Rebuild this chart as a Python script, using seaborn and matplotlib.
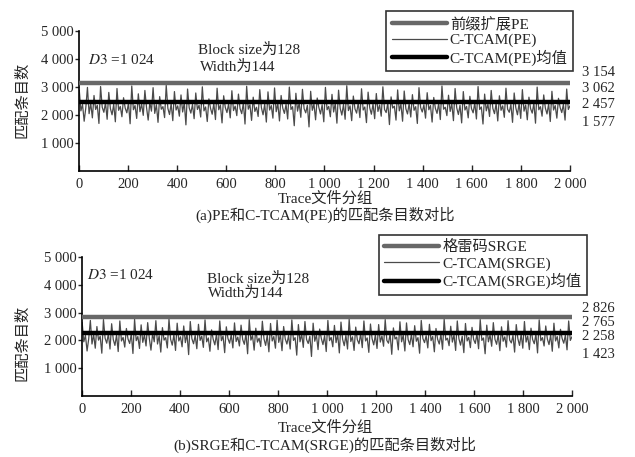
import numpy as np
import seaborn as sns
import matplotlib
matplotlib.use("Agg")
import matplotlib.pyplot as plt

# ---- data ----
trace_groups = 2000

# (a) PE vs C-TCAM(PE)
pe_count_a = 3154
ctcam_mean_a = 2457
ctcam_a = [
    2900, 2150, 2380, 1780, 2260, 2990, 2050, 2420, 1900, 2700, 2200, 2350, 1700, 3020, 2280,
    2100, 2440, 1850, 2810, 2230, 2010, 2390, 1760, 2950, 2170, 2310, 1940, 2620, 2250, 2080,
    2430, 1690, 3040, 2190, 2340, 1880, 2760, 2120, 2400, 1990, 2880, 2270, 1820, 2450, 2140,
    2980, 2060, 2370, 1740, 2660, 2210, 2300, 1910, 3062, 2240, 2020, 2410, 1800, 2840, 2180,
    2330, 1960, 2720, 2110, 2440, 1650, 2930, 2260, 2070, 2380, 1870, 2790, 2200, 2350, 1930,
    3010, 2150, 2290, 1770, 2580, 2240, 2030, 2420, 1840, 2960, 2190, 2360, 1720, 2690, 2270,
    2090, 2400, 1900, 2870, 2160, 2320, 1980, 2750, 2230, 2050, 2440, 1680, 3030, 2210, 2370,
    1810, 2640, 2130, 2280, 1950, 2910, 2260, 2010, 2390, 1750, 2830, 2180, 2340, 1890, 2970,
    2120, 2410, 1790, 2700, 2250, 2060, 2380, 1860, 3000, 2200, 2300, 1620, 2780, 2140, 2430,
    1920, 2920, 2230, 2080, 2350, 1577, 2850, 2170, 2400, 1830, 2610, 2270, 2040, 2370, 1760,
    2990, 2190, 2310, 1940, 2740, 2110, 2420, 1710, 2890, 2240, 2000, 2380, 1850, 3050, 2160,
    2330, 1800, 2680, 2220, 2070, 2440, 1910, 2940, 2180, 2290, 1730, 2820, 2260, 2030, 2400,
    1870, 2770, 2130, 2360, 1960, 3010, 2200, 2090, 2430, 1660, 2650, 2250, 2320, 1820, 2900,
    2150, 2390, 1780, 2860, 2230, 2040, 2410, 1930, 2730, 2170, 2300, 1700, 2980, 2270, 2110,
    2370, 1890, 2800, 2190, 2340, 1750, 2630, 2240, 2060, 2420, 1840, 3040, 2210, 2280, 1980,
    2710, 2130, 2400, 1800, 2950, 2260, 2020, 2350, 1720, 2840, 2180, 2310, 1900, 2670, 2230,
    2080, 2440, 1860, 3020, 2200, 2290, 1680, 2750, 2150, 2390, 1950, 2880, 2240, 2050, 2410,
    1790, 2690, 2170, 2330, 1920, 2960, 2210, 2100, 2380, 1740, 2790, 2260, 2010, 2420, 1880,
    2910, 2140, 2360, 1830, 2640, 2230, 2070, 2430, 1710, 3000, 2190, 2300, 1960, 2720, 2250,
    2040, 2400, 1770, 2850, 2180, 2340, 1890, 2600, 2270, 2090, 2390, 1820, 2930, 2200, 2330,
]
side_labels_a = ["3 154", "3 062", "2 457", "1 577"]

# (b) SRGE vs C-TCAM(SRGE)
srge_count_b = 2826
ctcam_mean_b = 2258
ctcam_b = [
    2650, 1950, 2180, 1620, 2060, 2720, 1870, 2220, 1720, 2500, 2010, 2150, 1540, 2750, 2080,
    1900, 2240, 1690, 2600, 2030, 1820, 2190, 1600, 2700, 1980, 2110, 1760, 2430, 2050, 1890,
    2230, 1530, 2760, 1990, 2140, 1710, 2560, 1930, 2200, 1800, 2640, 2070, 1650, 2250, 1950,
    2710, 1870, 2170, 1580, 2460, 2010, 2100, 1730, 2765, 2040, 1830, 2210, 1640, 2620, 1980,
    2130, 1770, 2520, 1920, 2240, 1490, 2680, 2060, 1880, 2180, 1700, 2580, 2000, 2150, 1750,
    2740, 1950, 2090, 1610, 2380, 2040, 1840, 2220, 1670, 2700, 1990, 2160, 1560, 2490, 2070,
    1900, 2200, 1730, 2630, 1960, 2120, 1800, 2550, 2030, 1860, 2240, 1520, 2750, 2010, 2170,
    1650, 2440, 1940, 2080, 1780, 2690, 2060, 1820, 2190, 1590, 2610, 1980, 2140, 1720, 2730,
    1930, 2210, 1630, 2500, 2050, 1870, 2180, 1690, 2740, 2000, 2100, 1470, 2570, 1950, 2230,
    1750, 2680, 2030, 1890, 2150, 1423, 2620, 1970, 2200, 1670, 2410, 2070, 1850, 2170, 1600,
    2720, 1990, 2110, 1770, 2540, 1920, 2220, 1550, 2660, 2040, 1810, 2180, 1690, 2760, 1960,
    2130, 1640, 2480, 2020, 1880, 2240, 1740, 2700, 1980, 2090, 1570, 2590, 2060, 1840, 2200,
    1710, 2570, 1940, 2160, 1790, 2750, 2000, 1900, 2230, 1500, 2450, 2050, 2120, 1660, 2670,
    1950, 2190, 1620, 2630, 2030, 1850, 2210, 1770, 2530, 1970, 2100, 1540, 2720, 2070, 1920,
    2170, 1730, 2580, 1990, 2140, 1590, 2430, 2040, 1870, 2220, 1680, 2760, 2010, 2080, 1810,
    2510, 1940, 2200, 1640, 2700, 2060, 1830, 2150, 1560, 2610, 1980, 2110, 1740, 2470, 2030,
    1890, 2240, 1700, 2750, 2000, 2090, 1520, 2550, 1950, 2190, 1790, 2640, 2040, 1860, 2210,
    1630, 2490, 1970, 2130, 1760, 2710, 2010, 1910, 2180, 1580, 2570, 2060, 1820, 2220, 1720,
    2680, 1940, 2160, 1670, 2440, 2030, 1880, 2230, 1550, 2740, 1990, 2100, 1800, 2520, 2050,
    1850, 2200, 1610, 2620, 1980, 2140, 1730, 2400, 2070, 1900, 2190, 1660, 2700, 2000, 2130,
]
side_labels_b = ["2 826", "2 765", "2 258", "1 423"]

x_ticks = list(range(0, 2001, 200))
x_tick_labels = ["0", "200", "400", "600", "800", "1 000", "1 200",
                 "1 400", "1 600", "1 800", "2 000"]
y_ticks = [1000, 2000, 3000, 4000, 5000]
y_tick_labels = ["1 000", "2 000", "3 000", "4 000", "5 000"]

panels = [
    dict(rect=[0.1244, 0.6258, 0.7732, 0.306], base=pe_count_a, series=ctcam_a,
         mean=ctcam_mean_a, side=side_labels_a,
         names=["前缀扩展PE", "C-TCAM(PE)", "C-TCAM(PE)均值"],
         caption="(a)PE和C-TCAM(PE)的匹配条目数对比",
         legend_box=(573, 11), side_y=[72, 88, 105, 123],
         d3_xy=(88, 60), block_xy=(198, 50), width_xy=(200, 67),
         xlabel_y=199, caption_y=215, ylabel_y=100),
    dict(rect=[0.129, 0.1335, 0.7717, 0.304], base=srge_count_b, series=ctcam_b,
         mean=ctcam_mean_b, side=side_labels_b,
         names=["格雷码SRGE", "C-TCAM(SRGE)", "C-TCAM(SRGE)均值"],
         caption="(b)SRGE和C-TCAM(SRGE)的匹配条目数对比",
         legend_box=(587, 235), side_y=[308, 322, 336, 354],
         d3_xy=(87, 275), block_xy=(207, 279), width_xy=(208, 293),
         xlabel_y=428, caption_y=445, ylabel_y=343),
]

sns.set_style("ticks")
plt.rcParams["font.family"] = ["Liberation Serif", "Noto Sans CJK SC"]
plt.rcParams["mathtext.fontset"] = "stix"

W, H = 635, 457
fig = plt.figure(figsize=(W / 100, H / 100), dpi=100)


def fx(px):
    return px / W


def fy(py):
    return 1 - py / H


for p in panels:
    ax = fig.add_axes(p["rect"])
    n = len(p["series"])
    groups = np.linspace(1, trace_groups, n)

    sns.lineplot(x=groups, y=p["series"], ax=ax, color="#4a4a4a",
                 linewidth=0.9, label=p["names"][1], zorder=2)
    sns.lineplot(x=[1, trace_groups], y=[p["base"], p["base"]], ax=ax,
                 color="#686868", linewidth=3.2, label=p["names"][0], zorder=3)
    sns.lineplot(x=[1, trace_groups], y=[p["mean"], p["mean"]], ax=ax,
                 color="black", linewidth=3.2, label=p["names"][2], zorder=4)

    ax.set_xlim(0, 2000)
    ax.set_ylim(0, 5000)
    ax.set_xticks(x_ticks)
    ax.set_xticklabels(x_tick_labels, fontsize=10.5)
    ax.set_yticks(y_ticks)
    ax.set_yticklabels(y_tick_labels, fontsize=10.5)
    ax.tick_params(axis="x", direction="in", length=4, width=1, pad=5)
    ax.tick_params(axis="y", direction="out", length=3, width=1, pad=1)
    for s in ["top", "right"]:
        ax.spines[s].set_visible(False)
    for s in ["left", "bottom"]:
        ax.spines[s].set_linewidth(1.2)
        ax.spines[s].set_color("black")
    ax.set_xlabel("")
    ax.set_ylabel("")

    handles, labels = ax.get_legend_handles_labels()
    order = [labels.index(nm) for nm in p["names"]]
    leg = ax.legend([handles[i] for i in order], [labels[i] for i in order],
                    loc="upper right",
                    bbox_to_anchor=(fx(p["legend_box"][0]), fy(p["legend_box"][1])),
                    bbox_transform=fig.transFigure, borderaxespad=0,
                    fontsize=11, frameon=True, fancybox=False, handlelength=3.6,
                    handletextpad=0.2, labelspacing=0.15, borderpad=0.35)
    leg.get_frame().set_edgecolor("black")
    leg.get_frame().set_linewidth(1.2)

    for lab, yy in zip(p["side"], p["side_y"]):
        fig.text(fx(582), fy(yy), lab, fontsize=10.5, va="center", ha="left")

    fig.text(fx(p["d3_xy"][0]), fy(p["d3_xy"][1]), r"$D3$ =1 024",
             fontsize=11, va="center", ha="left")
    fig.text(fx(p["block_xy"][0]), fy(p["block_xy"][1]), "Block size为128",
             fontsize=11, va="center", ha="left")
    fig.text(fx(p["width_xy"][0]), fy(p["width_xy"][1]), "Width为144",
             fontsize=11, va="center", ha="left")
    fig.text(fx(325), fy(p["xlabel_y"]), "Trace文件分组",
             fontsize=11, va="center", ha="center")
    fig.text(fx(325), fy(p["caption_y"]), p["caption"],
             fontsize=11, va="center", ha="center")
    fig.text(fx(22), fy(p["ylabel_y"]), "匹配条目数", rotation=90,
             fontsize=11, va="center", ha="center")

fig.savefig("out.png", dpi=100, facecolor="white")
